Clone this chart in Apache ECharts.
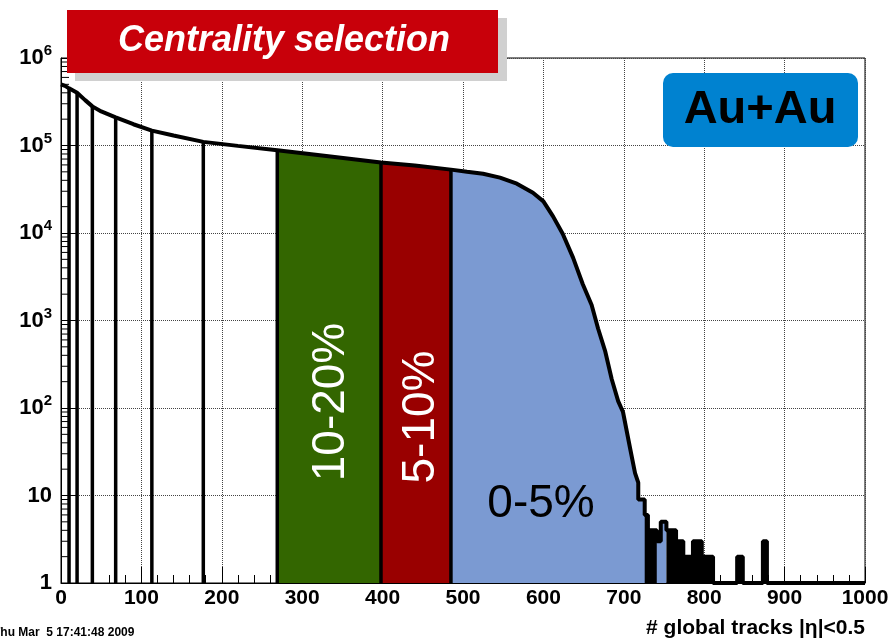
<!DOCTYPE html>
<html>
<head>
<meta charset="utf-8">
<script src="https://cdn.jsdelivr.net/npm/echarts@6/dist/echarts.min.js"></script>
<style>
  html, body { margin: 0; padding: 0; background: #fff; }
  #main { width: 895px; height: 641px; }
</style>
</head>
<body>
<div id="main"></div>
<script>
// multiplicity histogram, values
const curveX = [0, 5, 10, 20, 30, 39, 50, 68, 90, 113, 140, 177, 220, 269, 330, 398, 440, 485,
  505, 525, 546, 567, 587, 600, 612, 624, 637, 649, 660, 668, 677, 685, 693, 699, 708, 714];
const curveY = [500000, 480000, 450000, 400000, 330000, 280000, 245000, 210000, 175000, 148000,
  130000, 110000, 99000, 88000, 76000, 64000, 59000, 53000,
  50000, 47600, 42900, 36600, 28800, 23000, 15500, 9800, 5200, 2600, 1500, 810, 440, 213, 120, 90, 34, 18];

// noisy tail, binned (edges has one more entry than counts; 1 = empty on this log axis)
const tailEdges = [714, 718, 726, 730, 735, 741, 746, 753, 760, 765, 770, 774, 786, 797, 811,
  841, 848, 873, 878, 1000];
const tailCounts = [14, 9, 6, 4, 4, 3, 5, 4, 4, 3, 3, 2, 3, 2, 1, 2, 1, 3, 1];

// centrality cut positions
const cutX = [10, 20, 39, 68, 113, 177, 269, 398, 485];

const regionNames = ['10-20%', '5-10%', '0-5%'];
const regionEdges = [269, 398, 485, 755];
const regionColors = ['#336600', '#990000', '#7B9AD2'];
// stretches of the tail drawn solid black
const blackRanges = [[726, 741], [753, 811], [841, 848], [873, 878]];

const FONT = "'Liberation Sans', Arial, Helvetica, sans-serif";

const curvePts = curveX.map((x, i) => [x, curveY[i]]);
const tailPts = [];
tailCounts.forEach((c, i) => {
  tailPts.push([tailEdges[i], c]);
  tailPts.push([tailEdges[i + 1], c]);
});
const allPts = curvePts.concat(tailPts.slice(1));

function ptsIn(lo, hi) {
  return allPts.filter(p => p[0] >= lo && p[0] <= hi);
}
function valueAt(x) {
  return curveY[curveX.indexOf(x)];
}

// log minor ticks for the y axis (2..9 in each decade)
const yMinor = [];
for (let d = 0; d < 6; d++) {
  for (let k = 2; k <= 9; k++) yMinor.push([0, k * Math.pow(10, d)]);
}

const chart = echarts.init(document.getElementById('main'));

function areaSeries(name, data, color) {
  return {
    name: name,
    type: 'line',
    data: data,
    showSymbol: false,
    lineStyle: { width: 0 },
    areaStyle: { color: color, opacity: 1, origin: 'start' },
    z: 2,
    silent: true
  };
}

const fillSeries = regionNames.map((name, i) =>
  areaSeries(name, ptsIn(regionEdges[i], regionEdges[i + 1]), regionColors[i]));
const blackSeries = blackRanges.map((r, i) =>
  areaSeries('tail' + i, ptsIn(r[0], r[1]), '#000'));

chart.setOption({
  animation: false,
  grid: { left: 61, right: 30, top: 58, bottom: 58, show: true, borderColor: '#000', borderWidth: 1 },
  xAxis: {
    type: 'value',
    min: 0,
    max: 1000,
    interval: 100,
    axisLine: { show: true, onZero: false, lineStyle: { color: '#000', width: 1 } },
    axisTick: { show: true, inside: true, length: 16, lineStyle: { color: '#000' } },
    minorTick: { show: true, splitNumber: 5, length: 8, lineStyle: { color: '#000' } },
    splitLine: { show: true, lineStyle: { type: 'dotted', color: '#444', width: 1 } },
    axisLabel: { color: '#000', fontWeight: 'bold', fontSize: 21, fontFamily: FONT, margin: 5,
      showMinLabel: true, showMaxLabel: true, formatter: v => String(v) }
  },
  yAxis: {
    type: 'log',
    logBase: 10,
    min: 1,
    max: 1000000,
    splitNumber: 6,
    axisLine: { show: true, lineStyle: { color: '#000', width: 1 } },
    axisTick: { show: true, inside: true, length: 16, lineStyle: { color: '#000' } },
    splitLine: { show: true, lineStyle: { type: 'dotted', color: '#444', width: 1 } },
    axisLabel: {
      color: '#000', fontWeight: 'bold', fontSize: 22, fontFamily: FONT, margin: 9,
      formatter: v => {
        const e = Math.round(Math.log10(v));
        if (e === 0) return '1';
        if (e === 1) return '10';
        return '10{s|' + e + '}';
      },
      rich: {
        s: { fontSize: 15, fontWeight: 'bold', fontFamily: FONT, color: '#000', padding: [0, 0, 14, 0] }
      }
    }
  },
  series: fillSeries.concat(blackSeries, [
    {
      name: 'cuts',
      type: 'custom',
      data: cutX.map(x => [x, valueAt(x)]),
      renderItem: (params, api) => {
        const top = api.coord([api.value(0), api.value(1)]);
        const bot = api.coord([api.value(0), 1]);
        return {
          type: 'line',
          shape: { x1: bot[0], y1: bot[1], x2: top[0], y2: top[1] },
          style: { stroke: '#000', lineWidth: 3.5 }
        };
      },
      z: 3,
      silent: true
    },
    {
      name: 'hist',
      type: 'line',
      data: allPts,
      showSymbol: false,
      lineStyle: { color: '#000', width: 4 },
      z: 4,
      silent: true
    },
    {
      name: 'yminor',
      type: 'custom',
      data: yMinor,
      renderItem: (params, api) => {
        const p = api.coord([api.value(0), api.value(1)]);
        return {
          type: 'line',
          shape: { x1: p[0], y1: p[1], x2: p[0] + 8, y2: p[1] },
          style: { stroke: '#000', lineWidth: 1 }
        };
      },
      z: 5,
      silent: true
    }
  ]),
  graphic: [
    { type: 'rect', shape: { x: 75, y: 18, width: 432, height: 63 }, style: { fill: '#D0D0D0' }, z: 10 },
    { type: 'rect', shape: { x: 67, y: 10, width: 431, height: 63 }, style: { fill: '#C8000A' }, z: 11 },
    { type: 'text', x: 284, y: 41, z: 12,
      style: { text: 'Centrality selection', fill: '#fff', font: 'italic bold 36px ' + FONT,
        align: 'center', verticalAlign: 'middle', textAlign: 'center', textVerticalAlign: 'middle' } },
    { type: 'rect', shape: { x: 663, y: 73, width: 195, height: 74, r: 10 }, style: { fill: '#0082D0' }, z: 10 },
    { type: 'text', x: 760, y: 110, z: 12,
      style: { text: 'Au+Au', fill: '#000', font: 'bold 47px ' + FONT,
        align: 'center', verticalAlign: 'middle', textAlign: 'center', textVerticalAlign: 'middle' } },
    { type: 'text', x: 331, y: 402, rotation: Math.PI / 2, z: 12,
      style: { text: regionNames[0], fill: '#fff', font: '46px ' + FONT,
        align: 'center', verticalAlign: 'middle', textAlign: 'center', textVerticalAlign: 'middle' } },
    { type: 'text', x: 421, y: 417, rotation: Math.PI / 2, z: 12,
      style: { text: regionNames[1], fill: '#fff', font: '46px ' + FONT,
        align: 'center', verticalAlign: 'middle', textAlign: 'center', textVerticalAlign: 'middle' } },
    { type: 'text', x: 541, y: 504, z: 12,
      style: { text: regionNames[2], fill: '#000', font: '46px ' + FONT,
        align: 'center', verticalAlign: 'middle', textAlign: 'center', textVerticalAlign: 'middle' } },
    { type: 'text', x: 865, y: 628, z: 12,
      style: { text: '# global tracks |η|<0.5', fill: '#000', font: 'bold 21px ' + FONT,
        align: 'right', verticalAlign: 'middle', textAlign: 'right', textVerticalAlign: 'middle' } },
    { type: 'text', x: -7, y: 633, z: 12,
      style: { text: 'Thu Mar  5 17:41:48 2009', fill: '#000', font: 'bold 12px ' + FONT,
        align: 'left', verticalAlign: 'middle', textAlign: 'left', textVerticalAlign: 'middle' } }
  ]
});
</script>
</body>
</html>
